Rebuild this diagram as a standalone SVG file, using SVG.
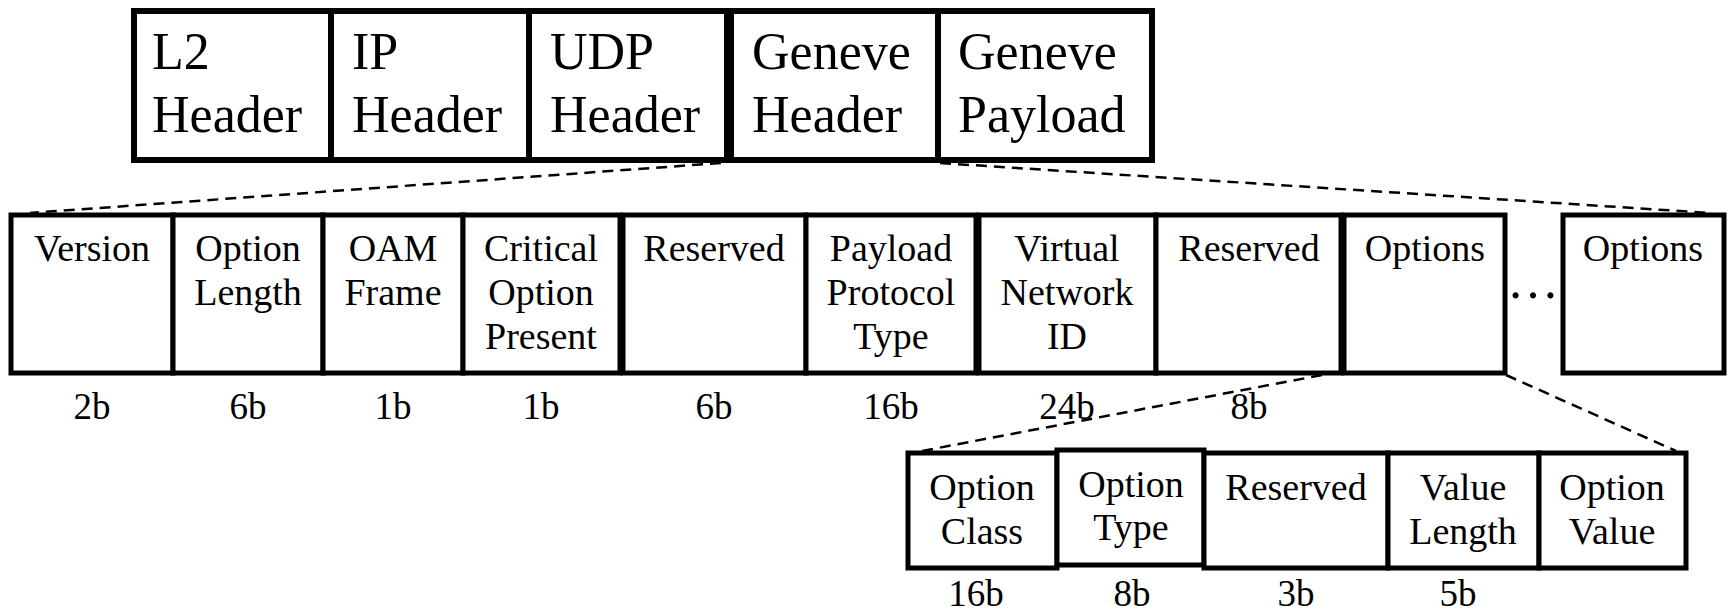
<svg xmlns="http://www.w3.org/2000/svg" width="1728" height="613" viewBox="0 0 1728 613">
<style>
.box{fill:#fff;stroke:#000;stroke-width:5}
.top{fill:#fff;stroke:#000;stroke-width:6}
text{font-family:"Liberation Serif","Times New Roman",serif;fill:#000}
.t1{font-size:52px}
.t2{font-size:38px;text-anchor:middle}
.bit{font-size:37px;text-anchor:middle}
.dash{fill:none;stroke:#000;stroke-width:2.5;stroke-dasharray:11 7}
</style>
<g id="connectors">
<line class="dash" x1="721" y1="163" x2="30" y2="213"/>
<line class="dash" x1="940" y1="163" x2="1710" y2="213"/>
<line class="dash" x1="1322" y1="375" x2="922" y2="451"/>
<line class="dash" x1="1506" y1="375" x2="1676" y2="451"/>
</g>
<g id="l2"><rect class="top" x="134" y="11" width="197" height="149"/><text class="t1" x="152" y="69">L2</text><text class="t1" x="152" y="132">Header</text></g>
<g id="ip"><rect class="top" x="331" y="11" width="198" height="149"/><text class="t1" x="352" y="69">IP</text><text class="t1" x="352" y="132">Header</text></g>
<g id="udp"><rect class="top" x="529" y="11" width="198" height="149"/><text class="t1" x="550" y="69">UDP</text><text class="t1" x="550" y="132">Header</text></g>
<g id="geneve-header"><rect class="top" x="731" y="11" width="207" height="149"/><text class="t1" x="752" y="69">Geneve</text><text class="t1" x="752" y="132">Header</text></g>
<g id="geneve-payload"><rect class="top" x="938" y="11" width="214" height="149"/><text class="t1" x="958" y="69">Geneve</text><text class="t1" x="958" y="132">Payload</text></g>

<g id="version"><rect class="box" x="11" y="215" width="162" height="158"/><text class="t2" x="92" y="261">Version</text><text class="bit" x="92" y="419">2b</text></g>
<g id="option-length"><rect class="box" x="173" y="215" width="150" height="158"/><text class="t2" x="248" y="261">Option</text><text class="t2" x="248" y="305">Length</text><text class="bit" x="248" y="419">6b</text></g>
<g id="oam-frame"><rect class="box" x="323" y="215" width="140" height="158"/><text class="t2" x="393" y="261">OAM</text><text class="t2" x="393" y="305">Frame</text><text class="bit" x="393" y="419">1b</text></g>
<g id="critical"><rect class="box" x="463" y="215" width="157" height="158"/><text class="t2" x="541" y="261">Critical</text><text class="t2" x="541" y="305">Option</text><text class="t2" x="541" y="349">Present</text><text class="bit" x="541" y="419">1b</text></g>
<g id="reserved1"><rect class="box" x="623" y="215" width="183" height="158"/><text class="t2" x="714" y="261">Reserved</text><text class="bit" x="714" y="419">6b</text></g>
<g id="payload-type"><rect class="box" x="806" y="215" width="170" height="158"/><text class="t2" x="891" y="261">Payload</text><text class="t2" x="891" y="305">Protocol</text><text class="t2" x="891" y="349">Type</text><text class="bit" x="891" y="419">16b</text></g>
<g id="vni"><rect class="box" x="979" y="215" width="177" height="158"/><text class="t2" x="1067" y="261">Virtual</text><text class="t2" x="1067" y="305">Network</text><text class="t2" x="1067" y="349">ID</text><text class="bit" x="1067" y="419">24b</text></g>
<g id="reserved2"><rect class="box" x="1156" y="215" width="185" height="158"/><text class="t2" x="1249" y="261">Reserved</text><text class="bit" x="1249" y="419">8b</text></g>
<g id="options1"><rect class="box" x="1344" y="215" width="161" height="158"/><text class="t2" x="1425" y="261">Options</text></g>
<g id="ellipsis"><text x="1533" y="298" style="font-size:52px;text-anchor:middle">…</text></g>
<g id="options2"><rect class="box" x="1563" y="215" width="161" height="158"/><text class="t2" x="1643" y="261">Options</text></g>

<g id="option-class"><rect class="box" x="908" y="453" width="149" height="115"/><text class="t2" x="982" y="500">Option</text><text class="t2" x="982" y="544">Class</text><text class="bit" x="976" y="606">16b</text></g>
<g id="option-type"><rect class="box" x="1057" y="450" width="147" height="115"/><text class="t2" x="1131" y="497">Option</text><text class="t2" x="1131" y="540">Type</text><text class="bit" x="1132" y="606">8b</text></g>
<g id="reserved3"><rect class="box" x="1204" y="453" width="184" height="115"/><text class="t2" x="1296" y="500">Reserved</text><text class="bit" x="1296" y="606">3b</text></g>
<g id="value-length"><rect class="box" x="1388" y="453" width="151" height="115"/><text class="t2" x="1463" y="500">Value</text><text class="t2" x="1463" y="544">Length</text><text class="bit" x="1458" y="606">5b</text></g>
<g id="option-value"><rect class="box" x="1539" y="453" width="147" height="115"/><text class="t2" x="1612" y="500">Option</text><text class="t2" x="1612" y="544">Value</text></g>
</svg>
